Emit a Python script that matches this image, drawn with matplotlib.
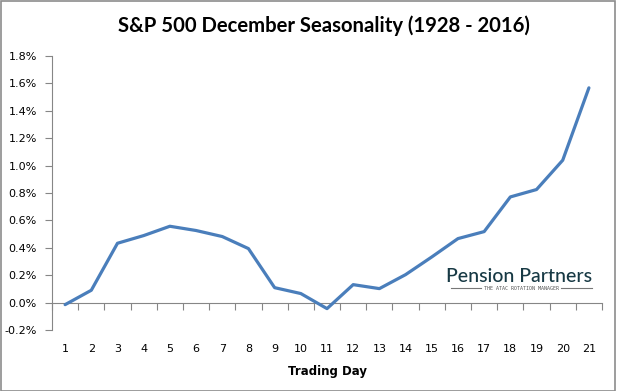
"""
S&P 500 December seasonality line chart (Excel style).
"""

import matplotlib.pyplot as plt
from matplotlib.patches import Rectangle
from matplotlib.ticker import FuncFormatter


TITLE = 'S&P 500 December Seasonality (1928 - 2016)'
X_LABEL = 'Trading Day'

trading_days = list(range(1, 22))
avg_return = [
    -0.015, 0.09, 0.433, 0.489, 0.557, 0.526, 0.482, 0.394, 0.109, 0.066,
    -0.044, 0.131, 0.102, 0.204, 0.333, 0.467, 0.518, 0.771, 0.825, 1.039,
    1.567,
]
y_ticks = [-0.2, 0.0, 0.2, 0.4, 0.6, 0.8, 1.0, 1.2, 1.4, 1.6, 1.8]

LINE_COLOR = '#4A7EBB'
AXIS_COLOR = '#868686'
LOGO_COLOR = '#173944'


def main():
    fig = plt.figure(figsize=(6.17, 3.91), dpi=100)
    ax = fig.add_axes([0.0843, 0.156, 0.8914, 0.701])

    ax.plot(trading_days, avg_return, color=LINE_COLOR, linewidth=2.3,
            solid_joinstyle='round', solid_capstyle='round', zorder=3)

    ax.set_xlim(0.5, 21.5)
    ax.set_ylim(-0.2, 1.8)
    ax.set_yticks(y_ticks)
    ax.yaxis.set_major_formatter(FuncFormatter(lambda v, _: f'{v:.1f}%'))

    # category axis: ticks between categories, crossing at zero
    ax.set_xticks([d + 0.5 for d in trading_days[:-1]] + [0.5, 21.5])
    ax.set_xticklabels([])
    ax.tick_params(axis='x', direction='out', length=5, color=AXIS_COLOR)
    for d in trading_days:
        ax.text(d, -0.335, str(d), ha='center', va='center', fontsize=8,
                clip_on=False)

    ax.spines['bottom'].set_position(('data', 0.0))
    ax.spines['bottom'].set_color(AXIS_COLOR)
    ax.spines['left'].set_color(AXIS_COLOR)
    ax.spines['top'].set_visible(False)
    ax.spines['right'].set_visible(False)
    ax.tick_params(axis='y', length=5, color=AXIS_COLOR, labelsize=8,
                   direction='out', pad=6)

    fig.text(0.525, 0.935, TITLE, ha='center', va='center', fontsize=14.6,
             fontweight='bold', family='Lato')
    fig.text(0.530, 0.050, X_LABEL, ha='center', va='center', fontsize=8.5,
             fontweight='bold')

    # watermark
    ax.text(0.982, 0.197, 'Pension Partners', transform=ax.transAxes,
            ha='right', va='center', fontsize=14, color=LOGO_COLOR,
            family='Lato', fontweight='medium')
    ax.text(0.853, 0.152, 'THE ATAC ROTATION MANAGER', transform=ax.transAxes,
            ha='center', va='center', fontsize=3.6, color='#555555',
            family='DejaVu Sans Mono')
    ax.plot([0.725, 0.78], [0.152, 0.152], transform=ax.transAxes,
            color='#777777', linewidth=0.8)
    ax.plot([0.926, 0.982], [0.152, 0.152], transform=ax.transAxes,
            color='#777777', linewidth=0.8)

    fig.patches.append(Rectangle((0.001, 0.001), 0.995, 0.997,
                                 transform=fig.transFigure, fill=False,
                                 edgecolor='#8c8c8c', linewidth=1.2))

    fig.savefig('out.png', dpi=100)
    plt.close(fig)


if __name__ == '__main__':
    main()
